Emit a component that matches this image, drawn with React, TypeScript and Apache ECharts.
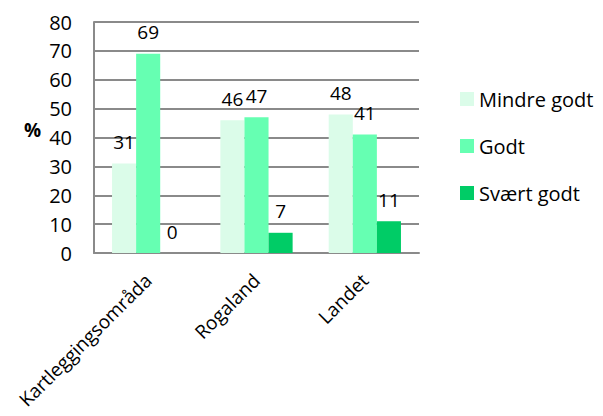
import React, { useEffect, useRef } from "react";
import * as echarts from "echarts";

const categories = ["Kartleggingsområda", "Rogaland", "Landet"];
const seriesNames = ["Mindre godt", "Godt", "Svært godt"];
const mindreGodt = [31, 46, 48];
const godt = [69, 47, 41];
const svaertGodt = [0, 7, 11];
const colors = ["#dbfce9", "#66ffb2", "#00cc66"];
const font = "'Open Sans', 'Noto Sans', sans-serif";

export default function App() {
  const ref = useRef<HTMLDivElement>(null);
  useEffect(() => {
    if (!ref.current) return;
    const chart = echarts.init(ref.current, null, { renderer: "svg" });
    const data = [mindreGodt, godt, svaertGodt];
    chart.setOption({
      animation: false,
      textStyle: { fontFamily: font },
      grid: { left: 94, right: 184, top: 22, bottom: 163, containLabel: false },
      legend: {
        orient: "vertical",
        left: 455,
        top: 84,
        itemWidth: 14,
        itemHeight: 14,
        itemGap: 27,
        icon: "rect",
        data: seriesNames,
        textStyle: { fontSize: 20, lineHeight: 20, color: "#000", fontFamily: font },
      },
      graphic: [
        {
          type: "text",
          left: 24,
          top: 120,
          style: { text: "%", fontSize: 19, fontWeight: "bold", fill: "#000", fontFamily: font },
        },
      ],
      xAxis: {
        type: "category",
        data: categories,
        axisLine: { lineStyle: { color: "#8a8a8a", width: 2 } },
        axisTick: { show: false },
        axisLabel: { rotate: 45, fontSize: 19, color: "#000", margin: 24, fontFamily: font, interval: 0 },
      },
      yAxis: {
        type: "value",
        min: 0,
        max: 80,
        interval: 10,
        axisLine: { show: true, lineStyle: { color: "#8a8a8a", width: 2 } },
        axisTick: { show: false },
        axisLabel: { fontSize: 20, color: "#000", margin: 22, fontFamily: font },
        splitLine: { lineStyle: { color: "#8a8a8a", width: 2 } },
      },
      series: seriesNames.map((name, i) => ({
        name,
        type: "bar",
        data: data[i],
        barGap: "0%",
        barCategoryGap: "33.3%",
        itemStyle: { color: colors[i] },
        label: {
          show: true,
          position: "top",
          distance: 12,
          fontSize: 19,
          color: "#000",
          fontFamily: font,
        },
      })),
    });
    return () => chart.dispose();
  }, []);
  return (
    <div
      ref={ref}
      style={{ position: "absolute", left: 0, top: 0, width: 603, height: 416 }}
    />
  );
}
